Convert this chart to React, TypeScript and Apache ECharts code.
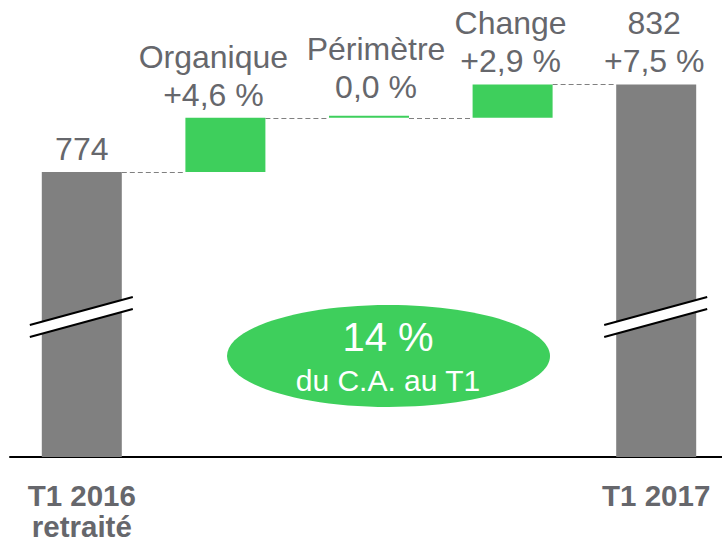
import React, { useEffect, useRef } from "react";
import * as echarts from "echarts";

const categories = ["T1 2016\nretraité", "Organique", "Périmètre", "Change", "T1 2017"];
const totalValues: (number | string)[] = [774, "-", "-", "-", 832];
const baseValues: (number | string)[] = ["-", 774, 810, 810, "-"];
const deltaValues: (number | string)[] = ["-", 36, 0, 22, "-"];
const topLabels = ["774", "Organique\n+4,6 %", "Périmètre\n0,0 %", "Change\n+2,9 %", "832\n+7,5 %"];
const shownAxisLabels = ["T1 2016\nretraité", "T1 2017"];
const bubbleTitle = "14 %";
const bubbleSubtitle = "du C.A. au T1";

const FONT = "'Liberation Sans', Arial, sans-serif";
const TEXT = "#66676c";
const GRAY = "#808080";
const GREEN = "#3ecf5c";

const labelShift = [0, -12, 7, -2, -2];
const labelDist = [4, 4, 10, 4, 4];

export default function App() {
  const ref = useRef<HTMLDivElement>(null);
  useEffect(() => {
    document.body.style.margin = "0";
    const chart = echarts.init(ref.current!, undefined, { renderer: "svg" });
    const labelBase = {
      show: true,
      position: "top" as const,
      distance: 4,
      color: TEXT,
      fontSize: 32,
      lineHeight: 38,
      fontFamily: FONT,
      formatter: (p: any) => topLabels[p.dataIndex],
    };
    const withLabel = (arr: (number | string)[]) =>
      arr.map((v, i) =>
        v === "-" ? v : { value: v, label: { offset: [labelShift[i], 0], distance: labelDist[i] } }
      );
    chart.setOption({
      animation: false,
      textStyle: { fontFamily: FONT },
      grid: { left: 10, top: 0, right: 0, height: 460 },
      xAxis: {
        type: "category",
        data: categories,
        axisLine: { lineStyle: { color: "#000", width: 2 } },
        axisTick: { show: false },
        axisLabel: {
          interval: 0,
          margin: 23,
          color: TEXT,
          fontSize: 29.5,
          fontWeight: "bold",
          lineHeight: 31,
          fontFamily: FONT,
          formatter: (v: string) => (shownAxisLabels.includes(v) ? v : ""),
        },
      },
      yAxis: {
        type: "value",
        min: 585,
        max: 888,
        show: false,
        splitLine: { show: false },
      },
      series: [
        {
          name: "total",
          type: "bar",
          data: withLabel(totalValues),
          barWidth: 80,
          barGap: "-100%",
          clip: true,
          itemStyle: { color: GRAY },
          label: labelBase,
        },
        {
          name: "base",
          type: "bar",
          stack: "w",
          data: baseValues,
          barWidth: 80,
          barGap: "-100%",
          clip: true,
          itemStyle: { color: "transparent" },
          silent: true,
        },
        {
          name: "delta",
          type: "bar",
          stack: "w",
          data: withLabel(deltaValues),
          barWidth: 80,
          barGap: "-100%",
          barMinHeight: 2,
          clip: true,
          itemStyle: { color: GREEN },
          label: labelBase,
        },
      ],
    });

    // connectors and decorations
    const levels = categories.map((_, i) =>
      typeof totalValues[i] === "number"
        ? (totalValues[i] as number)
        : (baseValues[i] as number) + (deltaValues[i] as number)
    );
    const half = 40;
    const xs = categories.map((_, i) => chart.convertToPixel({ xAxisIndex: 0 }, i) as number);
    const graphics: any[] = [];
    for (let i = 0; i < categories.length - 1; i++) {
      const y = Math.round(chart.convertToPixel({ yAxisIndex: 0 }, levels[i]) as number) + 0.5;
      graphics.push({
        type: "line",
        shape: { x1: xs[i] + half, y1: y, x2: xs[i + 1] - half, y2: y },
        style: { stroke: GRAY, lineWidth: 1, lineDash: [5, 3] },
        z: 10,
      });
    }
    [0, categories.length - 1].forEach((i) => {
      const cx = xs[i];
      const l = cx - 52;
      const r = cx + 51;
      graphics.push({
        type: "polygon",
        shape: { points: [[l, 325], [r, 297], [r, 309], [l, 337]] },
        style: { fill: "#fff" },
        z: 20,
      });
      graphics.push({
        type: "line",
        shape: { x1: l, y1: 325, x2: r, y2: 297 },
        style: { stroke: "#000", lineWidth: 2 },
        z: 21,
      });
      graphics.push({
        type: "line",
        shape: { x1: l, y1: 337, x2: r, y2: 309 },
        style: { stroke: "#000", lineWidth: 2 },
        z: 21,
      });
    });
    graphics.push({
      type: "ellipse",
      shape: { cx: 388.5, cy: 356, rx: 161.5, ry: 51 },
      style: { fill: GREEN },
      z: 20,
    });
    graphics.push({
      type: "text",
      x: 388,
      y: 337,
      style: {
        text: bubbleTitle,
        fill: "#fff",
        fontSize: 40,
        fontFamily: FONT,
        align: "center",
        verticalAlign: "middle",
      },
      z: 22,
    });
    graphics.push({
      type: "text",
      x: 388,
      y: 380,
      style: {
        text: bubbleSubtitle,
        fill: "#fff",
        fontSize: 30,
        fontFamily: FONT,
        align: "center",
        verticalAlign: "middle",
      },
      z: 22,
    });
    chart.setOption({ graphic: graphics });
    return () => chart.dispose();
  }, []);
  return (
    <div style={{ width: 722, height: 542, overflow: "hidden", position: "relative" }}>
      <div ref={ref} style={{ width: 728, height: 542 }} />
    </div>
  );
}
